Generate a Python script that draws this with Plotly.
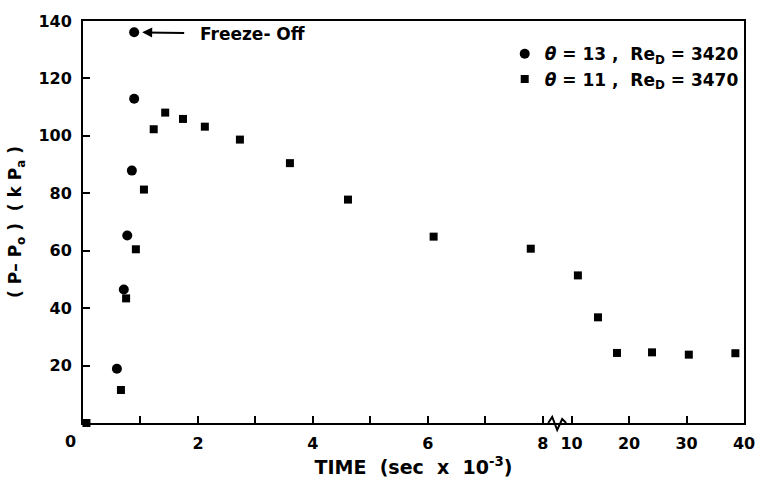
import plotly.graph_objects as go

# ---- data (time in sec x 10^-3, pressure in kPa) ----
t_theta13 = [0.59, 0.71, 0.77, 0.85, 0.89, 0.89]
p_theta13 = [18.9, 46.5, 65.3, 87.9, 112.9, 136.1]

t_theta11 = [0.06, 0.66, 0.75, 0.92, 1.06, 1.23, 1.43, 1.74, 2.12, 2.73, 3.60,
             4.61, 6.10, 7.79, 11.1, 14.6, 17.9, 24.0, 30.4, 38.5]
p_theta11 = [0.0, 11.5, 43.4, 60.5, 81.3, 102.3, 108.1, 105.9, 103.2, 98.7, 90.5,
             77.8, 64.9, 60.7, 51.4, 36.8, 24.4, 24.6, 23.8, 24.3]

x_major = [2, 4, 6, 8, 10, 20, 30, 40]
x_major_labels = ["2", "4", "6", "8", "10", "20", "30", "40"]
x_minor = [1, 3, 5, 7]
y_ticks = [20, 40, 60, 80, 100, 120, 140]
y_ticklabels = ["20", "40", "60", "80", "100", "120", "140"]

legend_13 = "<i>θ</i> = 13 ,  Re<sub>D</sub> = 3420"
legend_11 = "<i>θ</i> = 11 ,  Re<sub>D</sub> = 3470"

BREAK_LO, BREAK_HI, BREAK_GAP, DECADE = 8, 10, 0.5, 10.0


def pos(t):
    """Broken time axis: linear 0-8, then compressed 10-40 scale."""
    if t <= BREAK_LO:
        return t
    return BREAK_LO + BREAK_GAP + (t - BREAK_HI) / DECADE


FONT = "DejaVu Sans"

fig = go.Figure()
fig.add_trace(go.Scatter(
    x=[pos(t) for t in t_theta13], y=p_theta13, mode="markers",
    name=legend_13, legendgroup="a",
    marker=dict(symbol="circle", size=10, color="black"), cliponaxis=False))
fig.add_trace(go.Scatter(
    x=[pos(t) for t in t_theta11], y=p_theta11, mode="markers",
    name=legend_11, legendgroup="b",
    marker=dict(symbol="square", size=8, color="black"), cliponaxis=False))

# freeze-off annotation at highest theta=13 point
i_max = p_theta13.index(max(p_theta13))
fig.add_annotation(
    x=pos(t_theta13[i_max]), y=p_theta13[i_max], xref="x", yref="y",
    text="Freeze- Off", showarrow=True, ax=118, ay=2,
    arrowhead=2, arrowsize=1, arrowwidth=2, arrowcolor="black",
    standoff=8, startstandoff=14,
    font=dict(family=FONT, size=17, color="black", weight="bold"))

# lone "0" at the origin
fig.add_annotation(x=0, y=0, xref="paper", yref="paper", text="0",
                   showarrow=False, xanchor="right", yanchor="top",
                   xshift=-5, yshift=-7,
                   font=dict(family=FONT, size=16, color="black", weight="bold"))

# axis break zig-zag (paper y so it is not clipped below the axis)
brk = (pos(BREAK_LO) + pos(BREAK_HI)) / 2
fig.add_shape(type="path", xref="x", yref="paper", xsizemode="pixel", ysizemode="pixel",
              xanchor=brk, yanchor=0,
              path="M -9,0 L -5,6 L 0,-7 L 5,4 L 9,0",
              line=dict(color="black", width=2))

fig.update_layout(
    width=767, height=487,
    margin=dict(l=83, r=18, t=17, b=60),
    plot_bgcolor="white", paper_bgcolor="white",
    font=dict(family=FONT, size=16, color="black", weight="bold"),
    showlegend=True,
    legend=dict(x=0.638, y=0.962, xanchor="left", yanchor="top",
                bgcolor="rgba(0,0,0,0)", tracegroupgap=0,
                font=dict(family=FONT, size=17, color="black", weight="bold")),
    xaxis=dict(range=[0, pos(40)], tickmode="array",
               tickvals=[pos(t) for t in x_major], ticktext=x_major_labels,
               ticks="inside", ticklen=7, tickwidth=2,
               tickcolor="black", showline=True, linecolor="black", linewidth=2,
               mirror=True, showgrid=False, zeroline=False,
               ticklabelstandoff=5,
               minor=dict(tickmode="array", tickvals=[pos(t) for t in x_minor],
                          ticks="inside", ticklen=7, tickwidth=2, tickcolor="black",
                          showgrid=False),
               title=dict(text="TIME  (sec  x  10<sup>-3</sup>)", standoff=8,
                          font=dict(family=FONT, size=19, weight="bold"))),
    yaxis=dict(range=[0, 140], tickmode="array", tickvals=y_ticks, ticktext=y_ticklabels,
               ticks="inside", ticklen=7, tickwidth=2, tickcolor="black",
               showline=True, linecolor="black", linewidth=2, mirror=True,
               showgrid=False, zeroline=False, ticklabelstandoff=6,
               title=dict(text="( P– P<sub>o</sub> )  ( k P<sub>a</sub> )", standoff=12,
                          font=dict(family=FONT, size=17, weight="bold"))),
)

fig.write_html("out.html")
